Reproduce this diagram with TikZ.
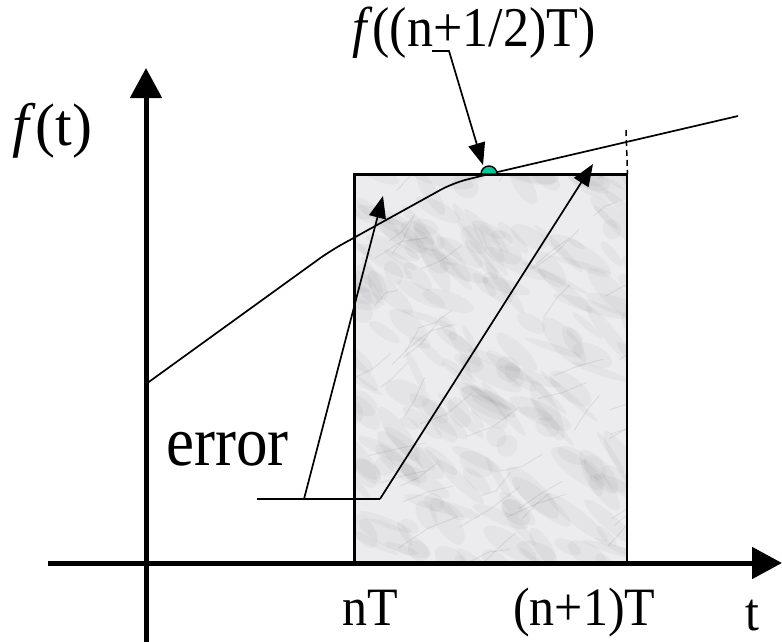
\documentclass[tikz,border=0pt]{standalone}
\usepackage{fontspec}
\setmainfont{Liberation Serif}
\usetikzlibrary{arrows.meta}
\definecolor{dotgreen}{RGB}{0,200,150}
\definecolor{marble}{RGB}{236,236,238}
\begin{document}
\begin{tikzpicture}[x=1pt,y=-1pt,
  curve/.style={line width=1.7pt, line join=round},
  axis/.style={line width=5pt,-{Triangle[length=30pt,width=31pt]}},
  ptr/.style={line width=1.7pt,-{Triangle[length=22pt,width=17pt]}},
  lbl/.style={font=\fontsize{50}{60}\selectfont, inner sep=0pt},
  blob/.style={fill=black, opacity=0.03},
  vein/.style={draw=black, opacity=0.07, line width=1pt, line cap=round}]
\useasboundingbox (0,0) rectangle (782,642);
% marble box
\node[draw, line width=1.5pt, fill=marble, minimum width=272pt, minimum height=389pt,
      inner sep=0pt, anchor=north west] (box) at (354,174) {};
\begin{scope}
  \clip (box.north west) rectangle (box.south east);
  \pgfmathsetseed{11}
  \foreach \i in {1,...,220} {
    \pgfmathsetmacro\px{344+rnd*292}
    \pgfmathsetmacro\py{164+rnd*409}
    \pgfmathsetmacro\ra{10+rnd*30}
    \pgfmathsetmacro\rb{3+rnd*9}
    \pgfmathsetmacro\ang{-15-rnd*50}
    \fill[blob] (\px,\py) ellipse [x radius=\ra, y radius=\rb, rotate=\ang];
  }
  \foreach \i in {1,...,45} {
    \pgfmathsetmacro\px{354+rnd*272}
    \pgfmathsetmacro\py{174+rnd*389}
    \pgfmathsetmacro\dx{20+rnd*40}
    \pgfmathsetmacro\dy{-10-rnd*30}
    \pgfmathsetmacro\wx{rnd*14-7}
    \draw[vein] (\px,\py) -- ++(\dx/2,\dy/2+\wx) -- ++(\dx/2,\dy/2-\wx);
  }
\end{scope}
\draw[line width=1.5pt] (box.north west) rectangle (box.south east);
% dashed extension
\coordinate (dtop) at (626,130);
\draw[line width=1.5pt, dash pattern=on 6pt off 4pt] (dtop) -- (box.north east);
% axes
\coordinate (ybot) at (146,642);
\coordinate (ytop) at (146,68);
\coordinate (xl) at (48,563);
\coordinate (xr) at (782,563);
\draw[axis] (ybot) -- (ytop);
\draw[axis] (xl) -- (xr);
% function curve
\coordinate (c0) at (146,384);
\coordinate (c1) at (330,251);
\coordinate (c2) at (453,183);
\coordinate (c3) at (489,174);
\coordinate (c4) at (738,116);
\draw[curve, rounded corners=14pt] (c0) -- (c1) -- (c2) -- (c3) -- (c4);
% midpoint dot
\draw[fill=dotgreen, line width=1.4pt] (481,174) arc[start angle=180, end angle=360, radius=8] -- cycle;
% labels
\node[lbl, font=\fontsize{52}{60}\selectfont, anchor=base west, yscale=1.08] (fmid) at (352,47) {\textit{f}((n+1/2)T)};
\node[lbl, font=\fontsize{60}{66}\selectfont, anchor=base west] (ft) at (12,145) {\textit{f}(t)};
\node[lbl, font=\fontsize{63}{70}\selectfont, anchor=base west, yscale=1.12] (err) at (166,465) {error};
\node[lbl, anchor=base west, yscale=1.08] (nT) at (342,625) {nT};
\node[lbl, anchor=base west, yscale=1.08] (n1T) at (513,625) {(n+1)T};
\node[lbl, anchor=base west, yscale=1.08] (tl) at (745,630) {t};
% pointer to midpoint
\coordinate (u0) at (432,51);
\coordinate (u1) at (449,51);
\coordinate (u2) at (483,165);
\draw[ptr] (u0) -- (u1) -- (u2);
% error pointers
\coordinate (e0) at (257,499);
\coordinate (e1) at (304,499);
\coordinate (e2) at (380,499);
\coordinate (t1) at (383,196);
\coordinate (t2) at (593,164);
\draw[line width=1.7pt] (e0) -- (e2);
\draw[ptr] (e1) -- (t1);
\draw[ptr] (e2) -- (t2);
\end{tikzpicture}
\end{document}
